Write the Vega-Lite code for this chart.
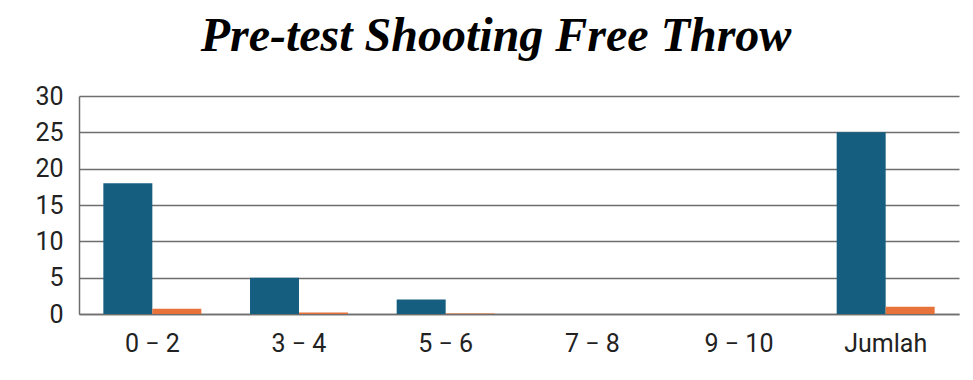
{
  "$schema": "https://vega.github.io/schema/vega-lite/v6.json",
  "width": 880,
  "height": 218,
  "autosize": {"type": "none"},
  "padding": {"left": 79, "top": 96, "right": 14, "bottom": 66},
  "background": "white",
  "title": {
    "text": "Pre-test Shooting Free Throw",
    "font": "Liberation Serif",
    "fontSize": 48,
    "fontStyle": "italic",
    "fontWeight": "bold",
    "color": "#000000",
    "anchor": "middle",
    "dx": -23,
    "offset": 23
  },
  "data": {
    "values": [
      {"kategori": "0 − 2", "seri": "A", "nilai": 18},
      {"kategori": "0 − 2", "seri": "B", "nilai": 0.72},
      {"kategori": "3 − 4", "seri": "A", "nilai": 5},
      {"kategori": "3 − 4", "seri": "B", "nilai": 0.2},
      {"kategori": "5 − 6", "seri": "A", "nilai": 2},
      {"kategori": "5 − 6", "seri": "B", "nilai": 0.08},
      {"kategori": "7 − 8", "seri": "A", "nilai": 0},
      {"kategori": "7 − 8", "seri": "B", "nilai": 0},
      {"kategori": "9 − 10", "seri": "A", "nilai": 0},
      {"kategori": "9 − 10", "seri": "B", "nilai": 0},
      {"kategori": "Jumlah", "seri": "A", "nilai": 25},
      {"kategori": "Jumlah", "seri": "B", "nilai": 1}
    ]
  },
  "mark": {"type": "bar"},
  "encoding": {
    "x": {
      "field": "kategori",
      "type": "nominal",
      "sort": null,
      "scale": {"paddingInner": 0.332, "paddingOuter": 0.166},
      "axis": {
        "title": null,
        "labelAngle": 0,
        "labelFont": "Roboto",
        "labelFontSize": 25,
        "labelColor": "#222222",
        "labelPadding": 17,
        "ticks": false,
        "domain": true,
        "domainColor": "#6e6e6e",
        "domainWidth": 1.5
      }
    },
    "xOffset": {"field": "seri", "type": "nominal", "scale": {"paddingInner": 0, "paddingOuter": 0}},
    "y": {
      "field": "nilai",
      "type": "quantitative",
      "scale": {"domain": [0, 30], "nice": false},
      "axis": {
        "title": null,
        "values": [0, 5, 10, 15, 20, 25, 30],
        "labelFont": "Roboto",
        "labelFontSize": 25,
        "labelColor": "#222222",
        "labelPadding": 16,
        "ticks": false,
        "domain": true,
        "domainColor": "#6e6e6e",
        "domainWidth": 1.5,
        "grid": true,
        "gridColor": "#6e6e6e",
        "gridWidth": 1.5
      }
    },
    "color": {
      "field": "seri",
      "type": "nominal",
      "scale": {"domain": ["A", "B"], "range": ["#155e80", "#e8733a"]},
      "legend": null
    }
  },
  "config": {"view": {"stroke": null}}
}
